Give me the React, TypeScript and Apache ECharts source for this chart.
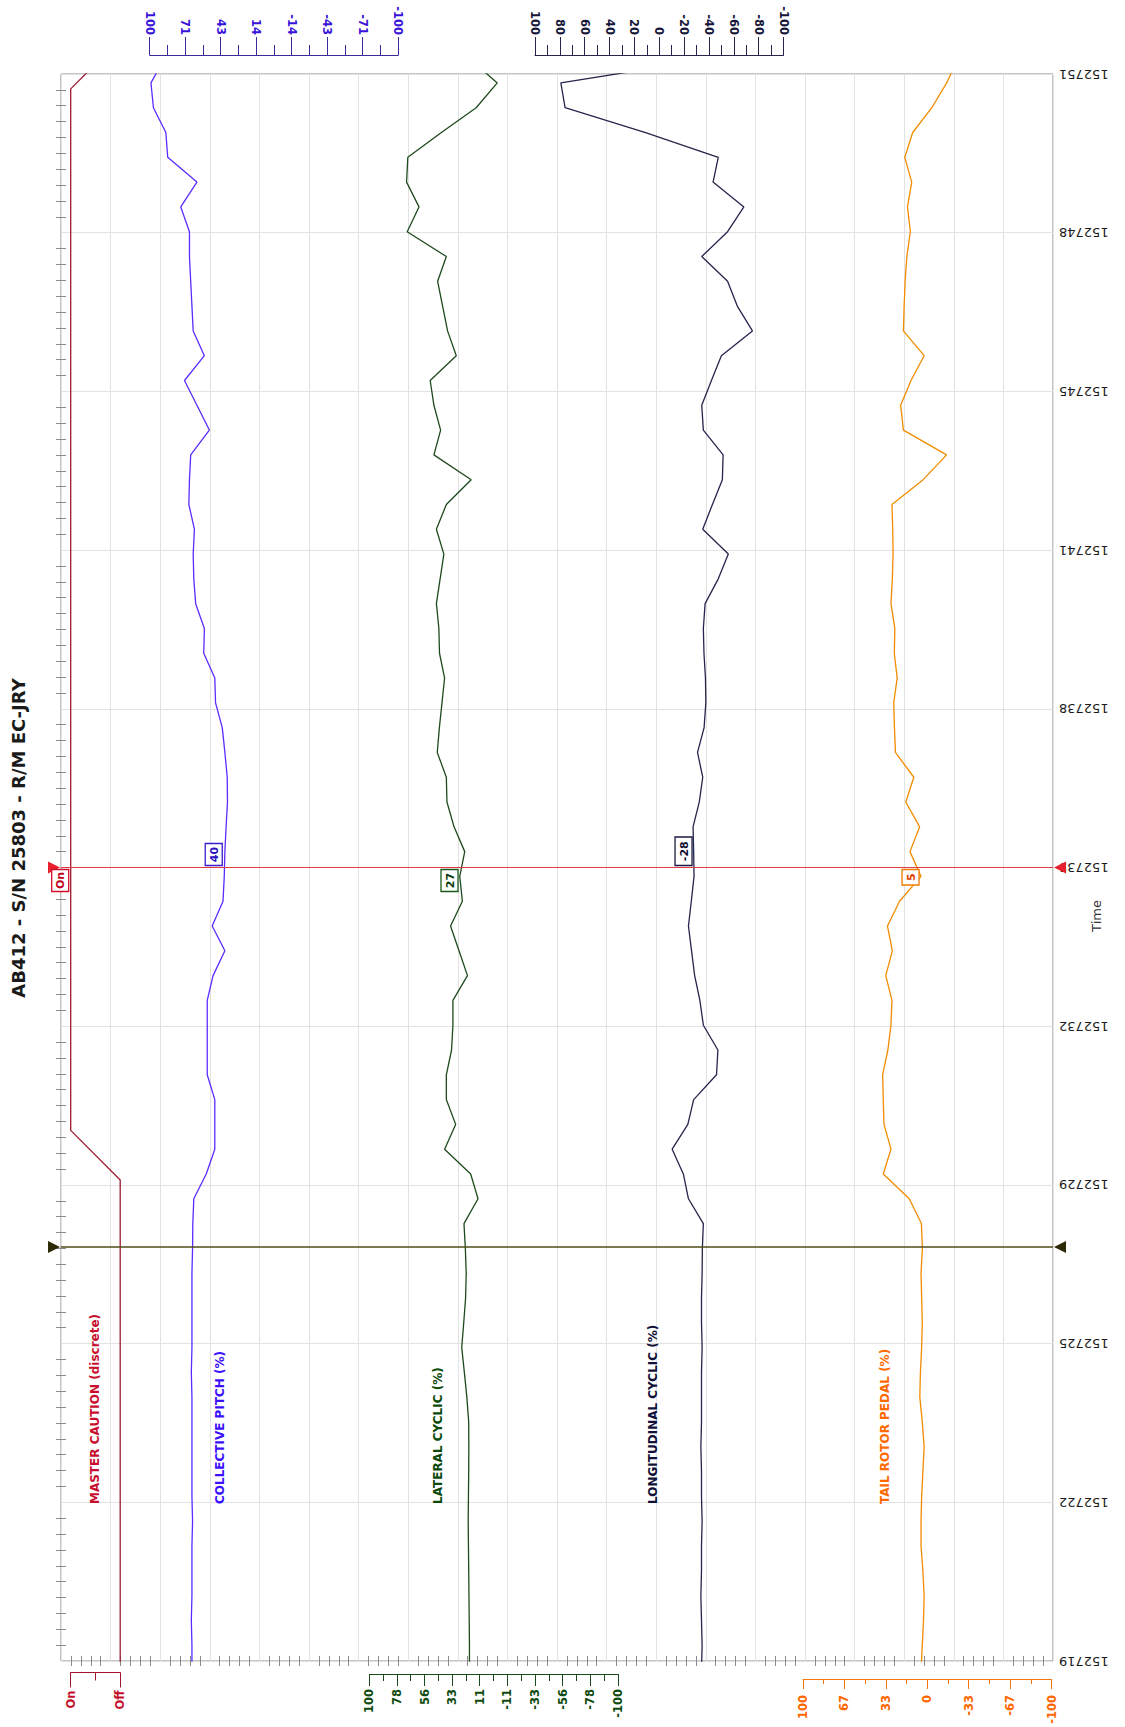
import React, { useEffect, useRef } from 'react';
import * as echarts from 'echarts';

// ---------- DATA ----------
const TIME_BASE = 152719; // hhmmss at t = 0
// sample times, seconds after 15:27:19
const TIMES = [
  -0.18, 0.32, 0.82, 1.32, 1.82, 2.32, 2.82, 3.32, 3.82, 4.32,
  4.82, 5.32, 5.82, 6.32, 6.82, 7.32, 7.82, 8.32, 8.82, 9.32,
  9.82, 10.32, 10.82, 11.32, 11.82, 12.32, 12.82, 13.32, 13.82, 14.32,
  14.82, 15.32, 15.82, 16.32, 16.82, 17.32, 17.82, 18.32, 18.82, 19.32,
  19.82, 20.32, 20.82, 21.32, 21.82, 22.32, 22.82, 23.32, 23.82, 24.32,
  24.82, 25.32, 25.82, 26.32, 26.82, 27.32, 27.82, 28.32, 28.82, 29.32,
  29.82, 30.32, 30.82, 31.32, 31.82, 32.32,
];
const COLLECTIVE = [
  66, 66, 66.5, 66, 66, 66, 65.5, 66, 66, 66,
  66, 66, 66.5, 66, 66, 66, 66, 65.5, 65.3, 64.5,
  54.5, 47.6, 47.6, 47.6, 53.7, 53.7, 53.7, 53.7, 49, 39.5,
  49.7, 41, 40, 39.5, 38.5, 37.4, 37.6, 39.5, 41.6, 47,
  47.6, 56.5, 56, 63, 64.5, 65, 64, 68.5, 68, 67,
  52, 62, 72, 56, 65, 66, 67, 68, 68, 75,
  62, 85.5, 87, 97, 99, 88,
];
const LATERAL = [
  19.4, 19.4, 19.6, 19.8, 20, 20.2, 20.4, 20.2, 20, 19.9,
  20, 21.5, 23.5, 25.6, 24, 22.5, 22, 22.7, 23.8, 12.5,
  18.4, 39.4, 30.5, 38, 38, 33.8, 32.7, 32.7, 21, 27.8,
  34.6, 25.1, 27.2, 23.2, 31.8, 37.5, 38, 45.3, 43.6, 41.5,
  39.4, 43.5, 44, 46, 43, 40, 46, 38, 18, 48,
  42.6, 48, 51, 30, 37, 41, 45, 38, 69.5, 60,
  70, 69, 42, 14, -3, 20,
];
const LONGITUDINAL = [
  -34, -34.5, -34, -33.5, -34, -34, -34.5, -34, -34, -33.5,
  -34, -34, -34, -34.5, -34, -34, -34.5, -34.7, -35.5, -23.5,
  -19.4, -10.4, -23, -27.7, -46.1, -47.2, -35.5, -32.7, -28.5, -26,
  -23.5, -25.8, -28, -27.7, -27.2, -32.2, -35, -30.8, -36.1, -37.5,
  -37.2, -36, -35.5, -36.9, -47.5, -55.6, -35, -42.8, -50.8, -51.4,
  -35.5, -34.2, -42, -50, -75, -62.8, -55, -34.2, -55, -68.1,
  -43.3, -47.5, 11, 75.8, 79.2, -45,
];
const TAIL = [
  5, 4, 3, 2.5, 3.5, 5, 5, 4.5, 3.5, 2.5,
  4, 6, 5.5, 4.5, 4, 4.5, 5, 3.9, 4.7, 14.5,
  35.4, 29.2, 34.8, 35.4, 35.9, 31.7, 29.2, 28.4, 33.4, 28.1,
  32, 22.3, 5, 13.9, 6.1, 17.3, 10.8, 25.6, 26.4, 27,
  24.2, 26.5, 26.1, 29.2, 28.1, 27.5, 27.8, 28.4, 3.3, -15.6,
  19.2, 21.4, 13.1, 2.5, 19.2, 18.6, 17.8, 16.4, 13.6, 15.9,
  12.5, 18.1, 11.7, -3.7, -15.6, -25,
];
const MASTER_TIMES = [-0.3, 9.7, 10.7, 31.7, 32.7];
const MASTER_STATE = [0, 0, 1, 1, 0]; // 0 = Off, 1 = On

// tick labels
const TIME_TICK_STEP = 3.2;
const MASTER_TICKS = [1, 0];
const MASTER_TICK_LABELS = ['Off', 'On'];
const COLLECTIVE_TICKS = [100, 71.43, 42.86, 14.29, -14.29, -42.86, -71.43, -100];
const LATERAL_TICKS = [100, 77.78, 55.56, 33.33, 11.11, -11.11, -33.33, -55.56, -77.78, -100];
const LONGITUDINAL_TICKS = [100, 80, 60, 40, 20, 0, -20, -40, -60, -80, -100];
const TAIL_TICKS = [100, 66.67, 33.33, 0, -33.33, -66.67, -100];

// cursors and their readouts
const CURSOR_TIMES = [16.0, 8.35];
const READOUT_TEXT = ['On', '40', '27', '-28', '5'];
const READOUT_VALUE = [1, 40, 27, -28, 5];

const TITLE = 'AB412 - S/N 25803 - R/M EC-JRY';
const LANE_NAMES = [
  'MASTER CAUTION (discrete)',
  'COLLECTIVE PITCH (%)',
  'LATERAL CYCLIC (%)',
  'LONGITUDINAL CYCLIC (%)',
  'TAIL ROTOR PEDAL (%)',
];

// ---------- LAYOUT / STYLE ----------
const FONT = '"DejaVu Sans", Verdana, sans-serif';
const PLOT = { left: 61, top: 74, width: 992, height: 1587 };

const LANES = [
  {
    left: 70.7, width: 49.5, min: 0, max: 1, ticks: MASTER_TICKS, pos: 'bottom', offset: 11.5,
    majorLen: 15, minorLen: 8, margin: 18, axisColor: '#a3142e', labelColor: '#c40f2b',
    lineColor: '#9e1a30', nameColor: '#c8102e', nameX: 95, boxColor: '#d0102a', boxText: '#c00020', below: true,
    fmt: (v: number) => MASTER_TICK_LABELS[Math.round(v)],
  },
  {
    left: 149.7, width: 248.5, min: -100, max: 100, ticks: COLLECTIVE_TICKS, pos: 'top', offset: 19,
    majorLen: 18, minorLen: 10, margin: 20, axisColor: '#3a2a9c', labelColor: '#3a14d8',
    lineColor: '#5a2cff', nameColor: '#3a10ff', nameX: 219.5, boxColor: '#3a1ccc', boxText: '#2a10c0', below: false,
    fmt: (v: number) => String(Math.round(v)),
  },
  {
    left: 369.3, width: 248.5, min: -100, max: 100, ticks: LATERAL_TICKS, pos: 'bottom', offset: 13,
    majorLen: 12, minorLen: 7, margin: 15, axisColor: '#1d4a1d', labelColor: '#0f4a0f',
    lineColor: '#1e4a1e', nameColor: '#0b4a0b', nameX: 437.5, boxColor: '#1a5a1a', boxText: '#0b3a0b', below: true,
    fmt: (v: number) => String(Math.round(v)),
  },
  {
    left: 535, width: 248.5, min: -100, max: 100, ticks: LONGITUDINAL_TICKS, pos: 'top', offset: 19,
    majorLen: 18, minorLen: 10, margin: 20, axisColor: '#25254a', labelColor: '#16163a',
    lineColor: '#25254d', nameColor: '#101038', nameX: 653, boxColor: '#1a1a40', boxText: '#101030', below: false,
    fmt: (v: number) => String(Math.round(v)),
  },
  {
    left: 803, width: 248.5, min: -100, max: 100, ticks: TAIL_TICKS, pos: 'bottom', offset: 18,
    majorLen: 10, minorLen: 5, margin: 16, axisColor: '#f07a10', labelColor: '#ff6600',
    lineColor: '#f28c00', nameColor: '#ff6a00', nameX: 884.5, boxColor: '#f07a00', boxText: '#e04000', below: true,
    fmt: (v: number) => String(Math.round(v)),
  },
];
const SERIES_VALUES = [null, COLLECTIVE, LATERAL, LONGITUDINAL, TAIL];

function buildOption() {
  const grid: any[] = [
    {
      left: PLOT.left, top: PLOT.top, width: PLOT.width, height: PLOT.height,
      show: true, borderColor: '#8a8a8a', borderWidth: 1, backgroundColor: 'transparent',
    },
  ];
  const xAxis: any[] = [
    {
      gridIndex: 0, type: 'value', min: 0, max: 20, interval: 1, position: 'top',
      axisLine: { show: false }, axisTick: { show: false, inside: true },
      minorTick: { show: true, splitNumber: 5, length: 5, lineStyle: { color: '#8a8a8a' } },
      axisLabel: { show: false },
      splitLine: { show: true, lineStyle: { color: '#e2e2e2', width: 1 } },
    },
    {
      gridIndex: 0, type: 'value', min: 0, max: 20, interval: 1, position: 'bottom',
      axisLine: { show: false }, axisTick: { show: false, inside: true },
      minorTick: { show: true, splitNumber: 5, length: 5, lineStyle: { color: '#8a8a8a' } },
      axisLabel: { show: false }, splitLine: { show: false },
    },
  ];
  const yAxis: any[] = [
    {
      gridIndex: 0, type: 'value', min: 0, max: 32, interval: TIME_TICK_STEP, position: 'right',
      axisLine: { show: false }, axisTick: { show: false, inside: true },
      minorTick: { show: true, splitNumber: 10, length: 5, lineStyle: { color: '#8a8a8a' } },
      axisLabel: {
        rotate: 180, margin: 6, fontFamily: FONT, fontSize: 13, color: '#1a1a1a',
        formatter: (v: number) => String(TIME_BASE + Math.round(v)),
      },
      splitLine: { show: true, lineStyle: { color: '#e2e2e2', width: 1 } },
    },
    {
      gridIndex: 0, type: 'value', min: 0, max: 32, interval: TIME_TICK_STEP, position: 'left',
      axisLine: { show: false }, axisTick: { show: false, inside: true },
      minorTick: { show: true, splitNumber: 10, length: 5, lineStyle: { color: '#8a8a8a' } },
      axisLabel: { show: false }, splitLine: { show: false },
    },
  ];
  const series: any[] = [];

  LANES.forEach((L, i) => {
    const gMajor = 1 + 2 * i;
    const gMinor = 2 + 2 * i;
    grid.push({ left: L.left, top: PLOT.top, width: L.width, height: PLOT.height, show: false });
    grid.push({ left: L.left, top: PLOT.top, width: L.width, height: PLOT.height, show: false });
    const minor = L.ticks.slice(1).map((v, j) => (v + L.ticks[j]) / 2);
    xAxis.push({
      gridIndex: gMajor, type: 'value', min: L.min, max: L.max, inverse: true,
      position: L.pos, offset: L.offset,
      axisLine: { show: true, onZero: false, lineStyle: { color: L.axisColor, width: 1 } },
      axisTick: { show: true, customValues: L.ticks, length: L.majorLen, lineStyle: { color: L.axisColor, width: 1 } },
      axisLabel: {
        show: true, customValues: L.ticks, rotate: 90, margin: L.margin,
        fontFamily: FONT, fontSize: 11.5, fontWeight: 'bold', color: L.labelColor,
        formatter: L.fmt,
      },
      splitLine: { show: false },
    });
    xAxis.push({
      gridIndex: gMinor, type: 'value', min: L.min, max: L.max, inverse: true,
      position: L.pos, offset: L.offset,
      axisLine: { show: false, onZero: false },
      axisTick: { show: true, customValues: minor, length: L.minorLen, lineStyle: { color: L.axisColor, width: 1 } },
      axisLabel: { show: false }, splitLine: { show: false },
    });
    yAxis.push({ gridIndex: gMajor, type: 'value', min: 0, max: 32, show: false });
    yAxis.push({ gridIndex: gMinor, type: 'value', min: 0, max: 32, show: false });

    const vals = SERIES_VALUES[i];
    const data = vals
      ? TIMES.map((t, k) => [vals[k], t])
      : MASTER_TIMES.map((t, k) => [MASTER_STATE[k], t]);
    series.push({
      type: 'line', name: LANE_NAMES[i], xAxisIndex: 2 + 2 * i, yAxisIndex: 2 + 2 * i,
      data, showSymbol: false, symbol: 'none', silent: true, clip: true,
      lineStyle: { color: L.lineColor, width: 1.3 },
    });
  });

  return { animation: false, backgroundColor: '#ffffff', grid, xAxis, yAxis, series };
}

function buildGraphics(chart: any) {
  const g: any[] = [];
  // title
  g.push({
    type: 'text', x: 18.5, y: 838, rotation: Math.PI / 2, z: 50,
    style: { text: TITLE, align: 'center', verticalAlign: 'middle', fill: '#1a1a1a', font: `bold 18px ${FONT}` },
  });
  // time axis name
  g.push({
    type: 'text', x: 1096, y: 916, rotation: Math.PI / 2, z: 50,
    style: { text: 'Time', align: 'center', verticalAlign: 'middle', fill: '#333', font: `13px ${FONT}` },
  });
  // lane names
  LANES.forEach((L, i) => {
    g.push({
      type: 'text', x: L.nameX, y: 1504, rotation: Math.PI / 2, z: 50,
      style: { text: LANE_NAMES[i], align: 'left', verticalAlign: 'middle', fill: L.nameColor, font: `bold 12px ${FONT}` },
    });
  });
  // cursors
  const cursorColors = ['#e23a46', '#4f4c16'];
  const triColors = ['#e8202e', '#2e2a08'];
  CURSOR_TIMES.forEach((t, ci) => {
    const y = chart.convertToPixel({ yAxisIndex: 0 }, t);
    const xl = PLOT.left;
    const xr = PLOT.left + PLOT.width;
    g.push({
      type: 'line', z: 60, shape: { x1: xl, y1: y, x2: xr, y2: y },
      style: { stroke: cursorColors[ci], lineWidth: ci === 0 ? 1.2 : 1.5 },
    });
    g.push({
      type: 'polygon', z: 61, shape: { points: [[xl - 13, y - 6], [xl - 1, y], [xl - 13, y + 6]] },
      style: { fill: triColors[ci] },
    });
    g.push({
      type: 'polygon', z: 61, shape: { points: [[xr + 13, y - 6], [xr + 1, y], [xr + 13, y + 6]] },
      style: { fill: triColors[ci] },
    });
  });
  // readouts at the red cursor
  const cy = chart.convertToPixel({ yAxisIndex: 0 }, CURSOR_TIMES[0]);
  LANES.forEach((L, i) => {
    const px = chart.convertToPixel({ xAxisIndex: 2 + 2 * i }, READOUT_VALUE[i]);
    const text = READOUT_TEXT[i];
    const w = 17;
    const h = 9 + text.length * 6.5;
    const right = px - 2;
    const cx = right - w / 2;
    const by = L.below ? cy + 2 + h / 2 : cy - 2 - h / 2;
    g.push({
      type: 'group', x: cx, y: by, z: 70,
      children: [
        {
          type: 'rect', z: 70, shape: { x: -w / 2, y: -h / 2, width: w, height: h },
          style: { fill: '#ffffff', stroke: L.boxColor, lineWidth: 1.3 },
        },
        {
          type: 'text', z: 71, x: 0.5, y: 0, rotation: Math.PI / 2,
          style: { text, align: 'center', verticalAlign: 'middle', fill: L.boxText, font: `bold 11px ${FONT}` },
        },
      ],
    });
  });
  return g;
}

export default function App() {
  const ref = useRef<HTMLDivElement>(null);
  useEffect(() => {
    if (!ref.current) return;
    const chart = echarts.init(ref.current, null, { renderer: 'svg' });
    chart.setOption(buildOption());
    chart.setOption({ graphic: buildGraphics(chart) });
    return () => chart.dispose();
  }, []);
  return (
    <div
      ref={ref}
      style={{ position: 'absolute', left: 0, top: 0, width: 1125, height: 1727, background: '#ffffff' }}
    />
  );
}
